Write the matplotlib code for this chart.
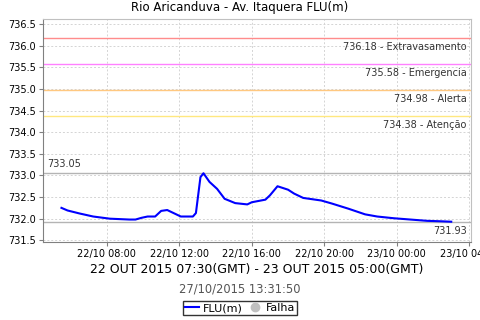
import matplotlib
matplotlib.use("Agg")
import matplotlib.pyplot as plt
import matplotlib.dates as mdates
from matplotlib.lines import Line2D
from datetime import datetime

plt.rcParams['font.family'] = ['DejaVu Sans']

# leituras (hora local) e nível em metros
times = ["2015-10-22 05:30", "2015-10-22 05:50", "2015-10-22 06:30", "2015-10-22 07:15",
         "2015-10-22 08:10", "2015-10-22 09:15", "2015-10-22 09:35", "2015-10-22 09:55",
         "2015-10-22 10:15", "2015-10-22 10:40", "2015-10-22 11:00", "2015-10-22 11:20",
         "2015-10-22 11:35", "2015-10-22 12:05", "2015-10-22 12:45", "2015-10-22 12:55",
         "2015-10-22 13:10", "2015-10-22 13:20", "2015-10-22 13:40", "2015-10-22 14:05",
         "2015-10-22 14:30", "2015-10-22 15:05", "2015-10-22 15:45", "2015-10-22 16:00",
         "2015-10-22 16:45", "2015-10-22 17:00", "2015-10-22 17:25", "2015-10-22 18:00",
         "2015-10-22 18:20", "2015-10-22 18:50", "2015-10-22 19:10", "2015-10-22 19:50",
         "2015-10-22 20:25", "2015-10-22 21:20", "2015-10-22 22:15", "2015-10-22 22:55",
         "2015-10-22 23:50", "2015-10-23 00:45", "2015-10-23 01:40", "2015-10-23 02:25",
         "2015-10-23 03:00"]
levels = [732.25, 732.19, 732.12, 732.05, 732.00, 731.98, 731.98, 732.02, 732.05, 732.05,
          732.18, 732.20, 732.15, 732.05, 732.05, 732.13, 732.96, 733.05, 732.85, 732.69,
          732.46, 732.36, 732.33, 732.38, 732.44, 732.54, 732.75, 732.67, 732.58, 732.48,
          732.46, 732.42, 732.35, 732.23, 732.10, 732.05, 732.01, 731.98, 731.95, 731.94,
          731.93]

thresholds = [736.18, 735.58, 734.98, 734.38]
threshold_names = ["Extravasamento", "Emergencia", "Alerta", "Atenção"]
threshold_colors = ["#ff8c8c", "#ff80ff", "#ffc880", "#ffe880"]

x = [datetime.strptime(t, "%Y-%m-%d %H:%M") for t in times]

fig = plt.figure(figsize=(4.8, 3.2), dpi=100)
ax = fig.add_axes([0.089, 0.245, 0.892, 0.696])

ax.set_xlim(datetime(2015, 10, 22, 4, 28), datetime(2015, 10, 23, 4, 5))
ax.set_ylim(731.47, 736.62)
ax.set_yticks([731.5 + 0.5 * i for i in range(11)])
ax.yaxis.set_major_formatter(plt.FormatStrFormatter('%.1f'))
ax.xaxis.set_major_locator(mdates.HourLocator(byhour=[0, 4, 8, 12, 16, 20]))
ax.xaxis.set_major_formatter(mdates.DateFormatter('%d/%m %H:%M'))
ax.tick_params(labelsize=7, length=3, color='#808080', pad=2)

ax.grid(True, color='#d4d4d4', linestyle=(0, (2, 2)), linewidth=0.7)
ax.set_axisbelow(True)
for s in ['top', 'right']:
    ax.spines[s].set_color('#c0c0c0')
for s in ['left', 'bottom']:
    ax.spines[s].set_color('#808080')

for val, name, col in zip(thresholds, threshold_names, threshold_colors):
    ax.axhline(val, color=col, linewidth=1)
    ax.annotate("%.2f - %s" % (val, name), xy=(1, val), xycoords=('axes fraction', 'data'),
                xytext=(-3, -3), textcoords='offset points', ha='right', va='top',
                fontsize=7, color='#333333')

vmax = max(levels)
vmin = min(levels)
ax.axhline(vmax, color='#b4b4b4', linewidth=1)
ax.axhline(vmin, color='#b4b4b4', linewidth=1)
ax.annotate("%.2f" % vmax, xy=(0, vmax), xycoords=('axes fraction', 'data'),
            xytext=(3, 3), textcoords='offset points', ha='left', va='bottom',
            fontsize=7, color='#333333')
ax.annotate("%.2f" % vmin, xy=(1, vmin), xycoords=('axes fraction', 'data'),
            xytext=(-3, -3), textcoords='offset points', ha='right', va='top',
            fontsize=7, color='#333333')

ax.plot(x, levels, color='#0000ff', linewidth=1.5)

fig.text(0.5, 0.975, "Rio Aricanduva - Av. Itaquera FLU(m)", ha='center', va='center', fontsize=8.5)
ax.set_xlabel("22 OUT 2015 07:30(GMT) - 23 OUT 2015 05:00(GMT)", fontsize=9, labelpad=3)
fig.text(0.5, 0.097, "27/10/2015 13:31:50", ha='center', va='center', fontsize=8.3, color='#555555')

handles = [Line2D([], [], color='#0000ff', linewidth=1.5),
           Line2D([], [], linestyle='none', marker='o', markersize=6, color='#c0c0c0')]
leg = fig.legend(handles, ["FLU(m)", "Falha"], loc='center', bbox_to_anchor=(0.5, 0.037),
                 ncol=2, fontsize=8, frameon=True, fancybox=False, handlelength=1.3,
                 handletextpad=0.3, columnspacing=0.5, borderpad=0.2, borderaxespad=0)
leg.get_frame().set_edgecolor('black')
leg.get_frame().set_linewidth(1)

fig.savefig("out.png", dpi=100)
